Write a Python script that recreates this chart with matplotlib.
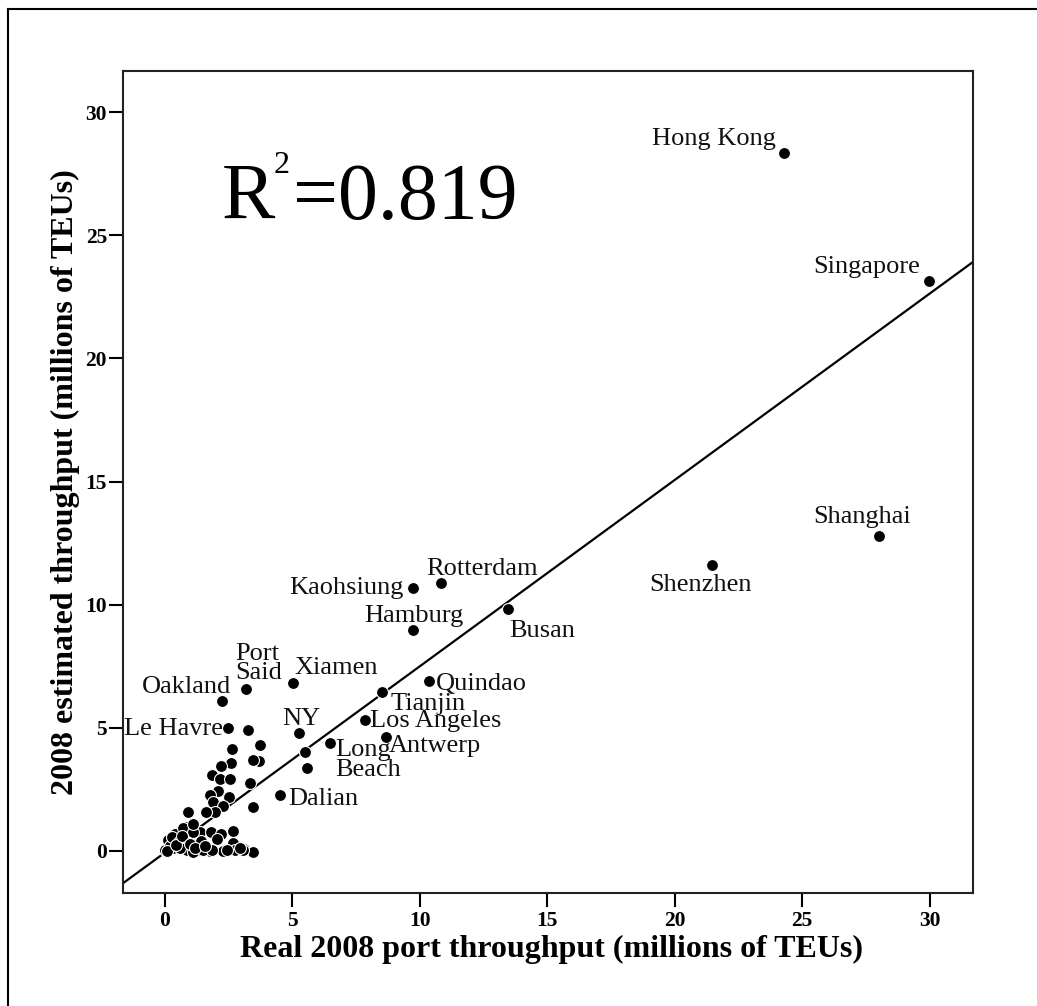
import numpy as np
import matplotlib
matplotlib.use("Agg")
import matplotlib.pyplot as plt
from matplotlib.lines import Line2D

plt.rcParams['font.family'] = ['Liberation Serif', 'DejaVu Serif']

# ---------------- data ----------------
labeled_names = ["Hong Kong", "Singapore", "Shanghai", "Shenzhen", "Rotterdam",
                 "Kaohsiung", "Busan", "Hamburg", "Quindao", "Tianjin", "Xiamen",
                 "Port\nSaid", "Oakland", "Le Havre", "NY", "Los Angeles",
                 "Antwerp", "Long\nBeach", "Dalian"]
labeled_real = [24.29, 29.99, 28.03, 21.46, 10.84, 9.73, 13.46, 9.73, 10.35, 8.52,
                5.05, 3.18, 2.25, 2.50, 5.29, 7.86, 8.69, 6.49, 4.53]
labeled_est = [28.35, 23.15, 12.80, 11.61, 10.87, 10.67, 9.83, 8.97, 6.90, 6.47,
               6.81, 6.57, 6.10, 4.98, 4.78, 5.32, 4.62, 4.40, 2.25]

other_real = [3.26, 3.76, 2.65, 3.72, 3.48, 2.61, 2.20, 1.86, 2.18, 2.58, 3.35,
              2.09, 1.78, 2.52, 1.89, 2.31, 3.48, 1.98, 1.63, 0.92, 0.84, 1.39,
              1.82, 2.20, 2.70, 0.45, 1.44, 2.07, 2.67, 0.97, 1.39, 1.78, 2.28,
              2.76, 3.12, 3.48, 5.51, 5.60, 0.41, 0.15, 0.74, 1.13, 0.35, 0.02,
              0.87, 1.13, 1.52, 1.85, 3.09, 0.20, 0.30, 0.55, 0.60, 0.10, 0.45,
              0.70, 1.00, 1.20, 1.60, 2.45, 2.95, 1.10]
other_est = [4.91, 4.28, 4.14, 3.64, 3.69, 3.56, 3.46, 3.09, 2.91, 2.92, 2.75,
             2.45, 2.27, 2.20, 2.00, 1.84, 1.80, 1.56, 1.57, 1.57, 0.99, 0.78,
             0.78, 0.68, 0.81, 0.58, 0.41, 0.48, 0.34, 0.04, 0.04, 0.00, 0.01,
             0.04, 0.09, -0.04, 4.01, 3.36, 0.69, 0.45, 0.92, 0.78, 0.11, 0.04,
             0.04, -0.03, 0.04, 0.04, 0.04, 0.20, 0.55, 0.35, 0.10, 0.00, 0.25,
             0.60, 0.30, 0.10, 0.20, 0.05, 0.10, 1.10]

fit_slope = 0.757
fit_intercept = -0.08
r_squared = "0.819"

x_ticks = [0, 5, 10, 15, 20, 25, 30]
y_ticks = [0, 5, 10, 15, 20, 25, 30]
x_label = "Real 2008 port throughput (millions of TEUs)"
y_label = "2008 estimated throughput (millions of TEUs)"

# label placement (offset in pixels, alignment)
label_style = {
    "Hong Kong": (-8, 7.7, 'right'),
    "Singapore": (-9, 7.4, 'right'),
    "Shanghai": (-17, 12.4, 'center'),
    "Shenzhen": (-11.7, -25.7, 'center'),
    "Rotterdam": (-15, 8.3, 'left'),
    "Kaohsiung": (-9, -5.7, 'right'),
    "Busan": (1.5, -27.7, 'left'),
    "Hamburg": (1.3, 8.3, 'center'),
    "Quindao": (7, -9, 'left'),
    "Tianjin": (9, -18.3, 'left'),
    "Xiamen": (1, 9, 'left'),
    "Port\nSaid": (-10, 10, 'left'),
    "Oakland": (9, 8, 'right'),
    "Le Havre": (-5.5, -6.7, 'right'),
    "NY": (2, 8.3, 'center'),
    "Los Angeles": (5, -6.7, 'left'),
    "Antwerp": (3, -14.7, 'left'),
    "Long\nBeach": (5, -33.3, 'left'),
    "Dalian": (8.5, -9.3, 'left'),
}

W, H = 1037, 1006
fig = plt.figure(figsize=(W / 100, H / 100), dpi=100)
fig.patch.set_facecolor('white')

ax = fig.add_axes([123 / W, 1 - 893 / H, (973 - 123) / W, (893 - 71) / H])
ax.set_xlim(-1.63, 31.70)
ax.set_ylim(-1.71, 31.67)

# regression line
ax.axline((0, fit_intercept), slope=fit_slope, color='black', lw=1.6, zorder=2)

ax.scatter(other_real, other_est, s=74, c='black', edgecolors='white',
           linewidths=0.8, zorder=3)
ax.scatter(labeled_real, labeled_est, s=74, c='black', edgecolors='white',
           linewidths=0.8, zorder=3)

for name, xv, yv in zip(labeled_names, labeled_real, labeled_est):
    dx, dy, ha = label_style[name]
    ax.annotate(name, (xv, yv), xytext=(dx, dy), textcoords='offset pixels',
                ha=ha, va='baseline', fontsize=19, color='#111111',
                linespacing=0.85, zorder=4)

ax.set_xticks(x_ticks)
ax.set_yticks(y_ticks)
ax.set_xticklabels([str(t) for t in x_ticks], fontsize=15.5, fontweight='bold')
ax.set_yticklabels([str(t) for t in y_ticks], fontsize=15.5, fontweight='bold')
ax.tick_params(axis='both', direction='out', length=10, width=1.5, color='black')
ax.tick_params(axis='x', pad=3.0)
ax.tick_params(axis='y', pad=1.5)
for sp in ax.spines.values():
    sp.set_linewidth(1.5)
    sp.set_color('#222222')

ax.set_xlabel(x_label, fontsize=23, fontweight='bold')
ax.set_ylabel(y_label, fontsize=23, fontweight='bold')
ax.xaxis.set_label_coords((551 - 123) / 850, (893 - 935) / 822)
ax.yaxis.set_label_coords((80 - 123) / 850, 0.5)

# R^2 annotation
fig.text(222 / W, 1 - 219.3 / H, "R", fontsize=57.5, va='baseline', ha='left')
fig.text(274 / W, 1 - 173.3 / H, "2", fontsize=23, va='baseline', ha='left')
fig.text(293 / W, 1 - 219.3 / H, "=" + r_squared, fontsize=57.5, va='baseline', ha='left')

# outer frame lines (top and left)
fig.add_artist(Line2D([8 / W, 1.0], [1 - 9.3 / H, 1 - 9.3 / H],
                      transform=fig.transFigure, color='black', lw=1.5))
fig.add_artist(Line2D([8 / W, 8 / W], [1 - 9.3 / H, 0.0],
                      transform=fig.transFigure, color='black', lw=1.5))

fig.savefig("out.png", dpi=100, facecolor='white')
